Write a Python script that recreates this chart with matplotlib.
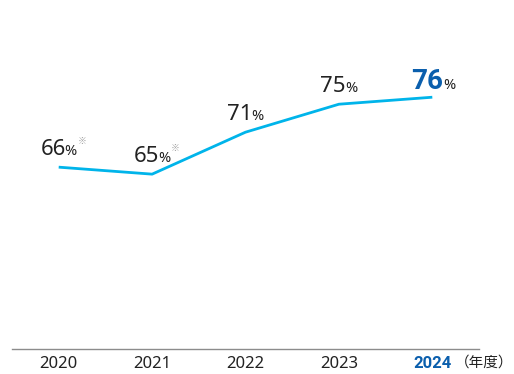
import matplotlib.pyplot as plt

years = [2020, 2021, 2022, 2023, 2024]
rates = [66, 65, 71, 75, 76]
notes = ['※', '※', '', '', '']
year_labels = ['2020', '2021', '2022', '2023', '2024']

plt.rcParams['font.family'] = ['Noto Sans', 'Noto Sans CJK JP', 'DejaVu Sans']

line_c = '#00b4ea'
hi_c = '#0b5fad'
txt_c = '#222222'

fig = plt.figure(figsize=(5.14, 3.74), dpi=100)
ax = fig.add_axes([12 / 514, 25 / 374, 467 / 514, 349 / 374])
ax.plot(years, rates, color=line_c, lw=2.0, solid_capstyle='butt')
ax.set_xlim(2019.5, 2024.5)
ax.set_ylim(40, 89.9)

for sp in ['top', 'left', 'right']:
    ax.spines[sp].set_visible(False)
ax.spines['bottom'].set_color('#8c8c8c')
ax.spines['bottom'].set_linewidth(1.0)
ax.set_yticks([])
ax.set_xticks(years)
ax.set_xticklabels(year_labels, fontsize=12, color=txt_c)
ax.tick_params(axis='x', length=0, pad=5)
lab = ax.get_xticklabels()[-1]
lab.set_color(hi_c)
lab.set_fontweight('bold')
lab.set_family('Roboto')

for i, (x, v, n) in enumerate(zip(years, rates, notes)):
    last = i == len(years) - 1
    if last:
        ax.annotate(str(v), (x, v), xytext=(8, 6), textcoords='offset points',
                    ha='right', va='baseline', fontsize=20, fontweight='bold', color=hi_c,
                    family=['Roboto'])
        ax.annotate('%', (x, v), xytext=(7.8, 6), textcoords='offset points',
                    ha='left', va='baseline', fontsize=10.5, color=txt_c)
    else:
        ax.annotate(str(v), (x, v), xytext=(5, 8.5), textcoords='offset points',
                    ha='right', va='baseline', fontsize=16, color=txt_c)
        ax.annotate('%', (x, v), xytext=(4.3, 8.5), textcoords='offset points',
                    ha='left', va='baseline', fontsize=10.5, color=txt_c)
    if n:
        ax.annotate(n, (x, v), xytext=(13.5, 17), textcoords='offset points',
                    ha='left', va='baseline', fontsize=6.5, color='#a0a0a0',
                    family=['Noto Sans CJK JP'])

fig.text(0.999, 11 / 374, '（年度）', ha='right', va='center', fontsize=10.5,
         color=txt_c, family=['Noto Sans CJK JP'])

fig.savefig('out.png', dpi=100)
